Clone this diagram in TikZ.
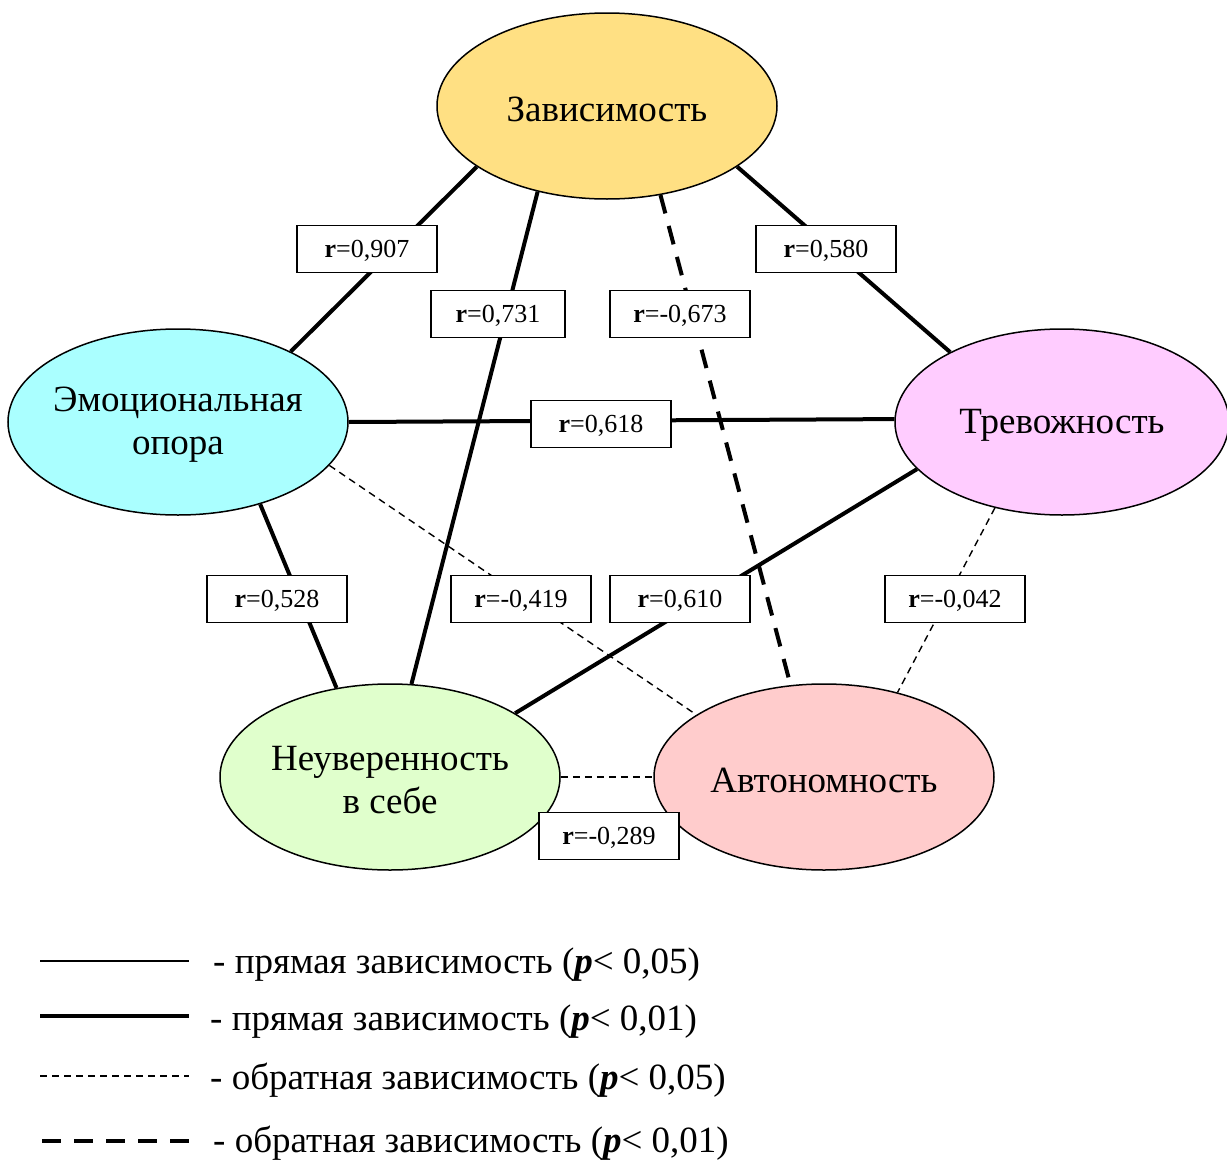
\documentclass[tikz,border=0pt]{standalone}
\usepackage{fontspec}
\setmainfont{Liberation Serif}
\usetikzlibrary{shapes.geometric}

\definecolor{zavcol}{HTML}{FFE083}
\definecolor{emocol}{HTML}{AAFFFF}
\definecolor{trevcol}{HTML}{FFCCFF}
\definecolor{neuvcol}{HTML}{E0FFCC}
\definecolor{avtcol}{HTML}{FFCCCC}

\begin{document}
\begin{tikzpicture}[x=1pt,y=-1pt,
  ell/.style={ellipse,draw,line width=1.5pt,minimum width=340pt,minimum height=186pt,inner sep=0pt},
  big/.style={font=\fontsize{37}{43}\selectfont,align=center,yshift=-3pt},
  rbox/.style={draw,fill=white,line width=1.5pt,minimum width=140pt,minimum height=47pt,inner sep=0pt,text depth=0pt,font=\fontsize{26}{30}\selectfont},
  pos1/.style={line width=4pt},
  pos5/.style={line width=1.8pt},
  neg1/.style={line width=4pt,dash pattern=on 19pt off 13pt},
  neg5/.style={line width=1.4pt,dash pattern=on 7pt off 5pt},
  legtext/.style={anchor=base west,inner sep=0pt,font=\fontsize{37}{43}\selectfont}]
  \useasboundingbox (0,0) rectangle (1227,1162);

  \node[ell,fill=zavcol,label={[big]center:Зависимость}] (zav) at (607,106) {};
  \node[ell,fill=emocol,label={[big]center:Эмоциональная\\опора}] (emo) at (178,422) {};
  \node[ell,fill=trevcol,minimum width=334pt,label={[big]center:Тревожность}] (trev) at (1062,422) {};
  \node[ell,fill=neuvcol,label={[big]center:Неуверенность\\в себе}] (neuv) at (390,777) {};
  \node[ell,fill=avtcol,label={[big]center:Автономность}] (avt) at (824,777) {};

  \draw[pos1] (zav.205) -- (emo.32);
  \draw[pos1] (zav.231) -- (neuv.77);
  \draw[neg1] (zav.301) -- (avt.110);
  \draw[pos1] (zav.335) -- (trev.148);
  \draw[pos1] (emo.0) -- (trev.179);
  \draw[pos1] (emo.315) -- (neuv.121);
  \draw[neg5] (emo.344) -- (avt.154);
  \draw[pos1] (trev.198) -- (neuv.27);
  \draw[neg5] (trev.232) -- (avt.49);
  \draw[neg5] (neuv.0) -- (avt.180);

  \node[rbox] (r907) at (367,249) {\textbf{r}=0,907};
  \node[rbox,minimum width=134pt] (r731) at (498,314) {\textbf{r}=0,731};
  \node[rbox] (r673) at (680,314) {\textbf{r}=-0,673};
  \node[rbox] (r580) at (826,249) {\textbf{r}=0,580};
  \node[rbox] (r618) at (601,424) {\textbf{r}=0,618};
  \node[rbox] (r528) at (277,599) {\textbf{r}=0,528};
  \node[rbox] (r419) at (521,599) {\textbf{r}=-0,419};
  \node[rbox] (r610) at (680,599) {\textbf{r}=0,610};
  \node[rbox] (r042) at (955,599) {\textbf{r}=-0,042};
  \node[rbox] (r289) at (609,836) {\textbf{r}=-0,289};

  % legend
  \draw[pos5] (40,961) -- (189,961);
  \draw[pos1] (40,1016) -- (189,1016);
  \draw[neg5] (40,1076) -- (189,1076);
  \draw[neg1] (42,1141) -- (189,1141);
  \node[legtext] (leg1) at (213,973) {- прямая зависимость (\textbf{\textit{p}}< 0,05)};
  \node[legtext] (leg2) at (210,1030) {- прямая зависимость (\textbf{\textit{p}}< 0,01)};
  \node[legtext] (leg3) at (210,1089) {- обратная зависимость (\textbf{\textit{p}}< 0,05)};
  \node[legtext] (leg4) at (213,1152) {- обратная зависимость (\textbf{\textit{p}}< 0,01)};
\end{tikzpicture}
\end{document}
